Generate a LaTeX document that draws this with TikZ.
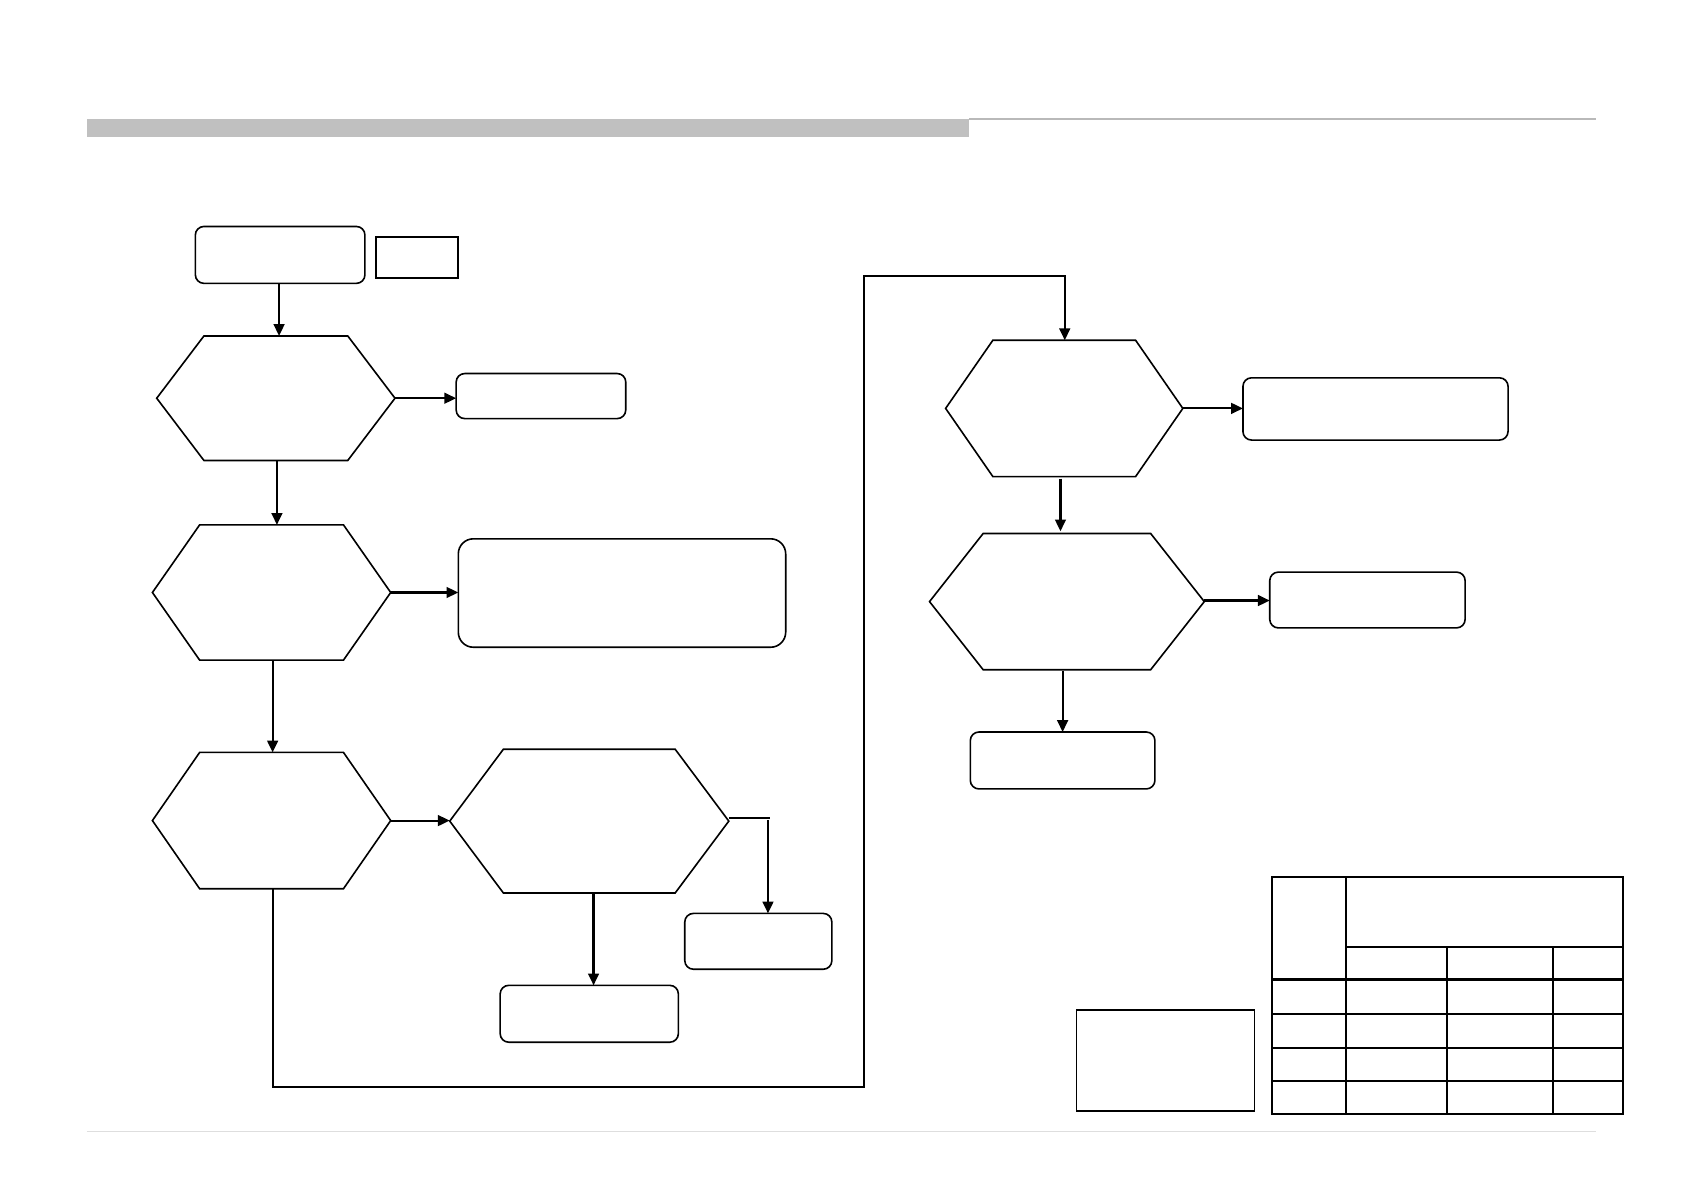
\documentclass[tikz,border=0pt]{standalone}
\usetikzlibrary{arrows.meta,calc}
\begin{document}
\begin{tikzpicture}[x=1pt,y=-1pt,
  hexbox/.style={minimum width=#1,inner sep=0pt,outer sep=0pt},
  rbox/.style={draw,line width=1.5pt,rounded corners=8pt,inner sep=0pt,outer sep=0pt},
  sbox/.style={draw,line width=1.2pt,inner sep=0pt,outer sep=0pt},
  arr/.style={line width=2pt,-{Triangle[length=11pt,width=10pt]}},
  hexline/.style={line width=1.5pt,line join=miter},
  tab/.style={line width=2.3pt}
]
\useasboundingbox (0,0) rectangle (1568,1110);
% header and footer rules
\fill[fill={rgb,255:red,192;green,192;blue,192}] (81,111) rectangle (903,128);
\draw[line width=1.2pt,color={rgb,255:red,185;green,185;blue,185}] (903,111) -- (1487,111);
\draw[line width=1pt,color={rgb,255:red,222;green,222;blue,222}] (81,1054) -- (1487,1054);

% hexagon helper: name, chamfer
\newcommand{\myhex}[2]{%
  \draw[hexline] (#1.west) -- ($(#1.north west)+(#2,0)$) -- ($(#1.north east)+(-#2,0)$) -- (#1.east)
    -- ($(#1.south east)+(-#2,0)$) -- ($(#1.south west)+(#2,0)$) -- cycle;}

% hexagon frames
\node[hexbox=222pt,minimum height=116pt] (h1) at (257,371) {};
\node[hexbox=222pt,minimum height=126pt] (h2) at (253,552) {};
\node[hexbox=222pt,minimum height=127pt] (h3) at (253,764.5) {};
\node[hexbox=260pt,minimum height=134pt] (h4) at (549,765) {};
\node[hexbox=221pt,minimum height=127pt] (h5) at (991.5,380.5) {};
\node[hexbox=256pt,minimum height=127pt] (h6) at (994,560.5) {};
\myhex{h1}{44}
\myhex{h2}{44}
\myhex{h3}{44}
\myhex{h4}{50}
\myhex{h5}{44}
\myhex{h6}{50}

% boxes
\node[rbox,minimum width=158pt,minimum height=53pt] (b0) at (261,237.5) {};
\node[sbox,line width=1.8pt,minimum width=77pt,minimum height=38pt] (s0) at (388.5,240) {};
\node[rbox,minimum width=158pt,minimum height=42pt] (b1) at (504,369) {};
\node[rbox,rounded corners=14pt,minimum width=305pt,minimum height=101pt] (b2) at (579.5,552.5) {};
\node[rbox,minimum width=137pt,minimum height=52pt] (b3) at (706.5,877) {};
\node[rbox,minimum width=166pt,minimum height=53pt] (b4) at (549,944.5) {};
\node[rbox,minimum width=247pt,minimum height=58pt] (b5) at (1281.5,381) {};
\node[rbox,minimum width=182pt,minimum height=52pt] (b6) at (1274,559) {};
\node[rbox,minimum width=172pt,minimum height=53pt] (b7) at (990,708.5) {};
\node[sbox,minimum width=166pt,minimum height=94pt] (r8) at (1086,988) {};

% connectors
\draw[arr] ($(b0.south)+(-1,0)$) -- ($(b0.south |- h1.north)+(-1,0)$);
\draw[arr] (h1.east) -- (h1.east -| b1.west);
\draw[arr] ($(h1.south)+(1,0)$) -- ($(h1.south |- h2.north)+(1,0)$);
\draw[arr] (h2.east) -- (h2.east -| b2.west);
\draw[arr] ($(h2.south)+(1,0)$) -- ($(h2.south |- h3.north)+(1,0)$);
\draw[arr] (h3.east) -- (h3.east -| h4.west);
\coordinate (c1) at (717,762);
\coordinate (c2) at (715.5,764);
\draw[line width=1.2pt] ($(h4.east)+(0,-3)$) -- (c1);
\draw[arr] (c2) -- (c2 |- b3.north);
\draw[arr] ($(h4.south)+(4,0)$) -- ($(h4.south |- b4.north)+(4,0)$);
\coordinate (k1) at (805,1013);
\coordinate (k2) at (805,257);
\draw[arr] ($(h3.south)+(1,0)$) |- (k1) -- (k2) -| ($(h5.north)+(0.5,0)$);
\draw[arr] (h5.east) -- (h5.east -| b5.west);
\draw[arr] ($(h5.south)+(-3.5,2)$) -- ($(h5.south |- h6.north)+(-3.5,-2)$);
\draw[arr] ($(h6.east)+(0,-1)$) -- ($(h6.east -| b6.west)+(0,-1)$);
\draw[arr] ($(h6.south)+(-4,1)$) -- ($(h6.south |- b7.north)+(-4,0)$);

% table
\draw[tab] (1185,817) rectangle (1512,1038);
\draw[tab] (1254,817) -- (1254,1038);
\draw[tab] (1254,882.5) -- (1512,882.5);
\draw[tab] (1348,882.5) -- (1348,1038);
\draw[tab] (1447,882.5) -- (1447,1038);
\foreach \yy in {912.5,944.5,976.5,1007} \draw[tab] (1185,\yy) -- (1512,\yy);
\end{tikzpicture}
\end{document}
